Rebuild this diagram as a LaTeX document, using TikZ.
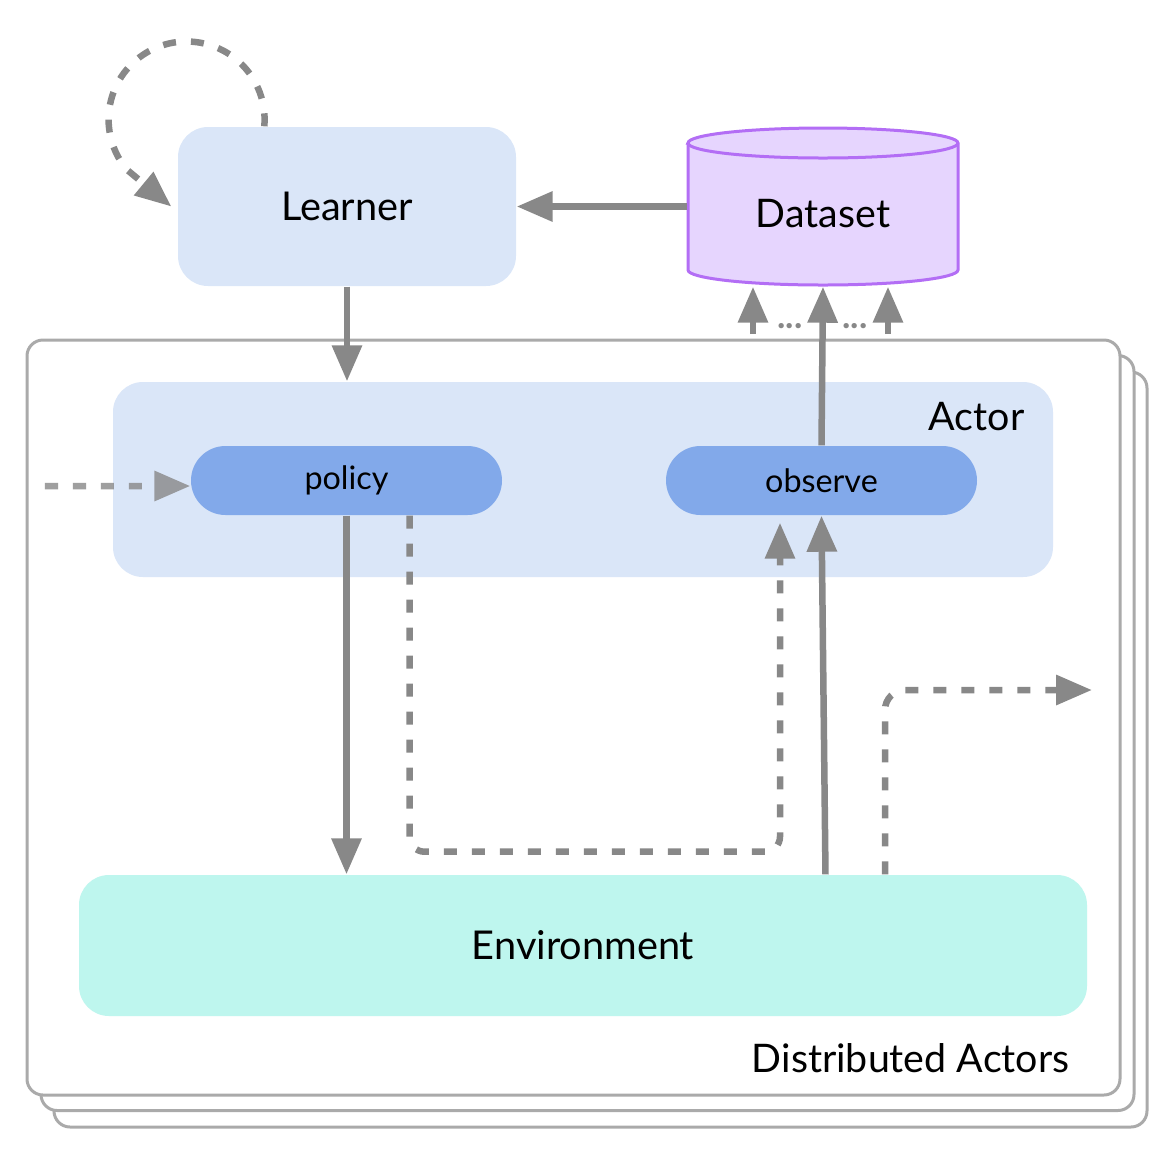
\documentclass[tikz,border=0pt]{standalone}
\usepackage{fontspec}
\setmainfont{Lato}
\usepackage{tikz}
\usetikzlibrary{arrows.meta,positioning}
\definecolor{paleblue}{HTML}{DAE6F8}
\definecolor{pillblue}{HTML}{82A9EA}
\definecolor{mint}{HTML}{BEF6EE}
\definecolor{lilac}{HTML}{E6D5FE}
\definecolor{violet}{HTML}{B36EF5}
\definecolor{wire}{HTML}{888888}
\definecolor{edge}{HTML}{AAAAAA}

\tikzset{
  box/.style={rectangle,rounded corners=0.3cm,fill=paleblue,inner sep=3pt,font=\fontsize{11.3}{13}\selectfont},
  pill/.style={rectangle,rounded corners=0.345cm,fill=pillblue,minimum width=3.11cm,minimum height=0.69cm,inner sep=2pt,font=\fontsize{9.2}{11}\selectfont},
  framebox/.style={rectangle,rounded corners=0.16cm,draw=edge,line width=0.03cm,minimum width=10.93cm,minimum height=7.55cm},
  flow/.style={-{Triangle[length=0.36cm,width=0.29cm]},wire,line width=0.065cm},
  dashflow/.style={flow,dash pattern=on 0.13cm off 0.15cm},
  caption/.style={font=\fontsize{11.2}{13}\selectfont},
  dotmark/.style={wire,anchor=base,font=\bfseries\fontsize{10}{11}\selectfont,inner sep=0pt}
}

\begin{document}
\begin{tikzpicture}[x=1cm,y=1cm]
\useasboundingbox (0,0) rectangle (11.68,-11.71);
% stacked actor frames
\node[framebox,fill=white] (frame3) at (6.005,-7.495) {};
\node[framebox,fill=white] (frame2) at (5.875,-7.33) {};
\node[framebox,fill=white] (frame) at (5.735,-7.175) {};
\node[caption,anchor=east,inner sep=0pt] (distlabel) at (10.70,-10.58) {Distributed Actors};

% actor
\node[box,minimum width=9.40cm,minimum height=1.95cm] (actor) at (5.83,-4.795) {};
\node[caption] (actorlabel) at (9.765,-4.17) {Actor};
\node[pill] (policy) at (3.465,-4.805) {policy};
\node[pill] (observe) at (8.215,-4.805) {observe};

% learner and dataset
\node[box,minimum width=3.38cm,minimum height=1.59cm] (learner) at (3.47,-2.065) {Learner};
\filldraw[fill=lilac,draw=violet,line width=0.03cm] (6.88,-1.43) -- (6.88,-2.70)
  arc[start angle=180,end angle=360,x radius=1.35,y radius=0.15] -- (9.58,-1.43)
  arc[start angle=0,end angle=180,x radius=1.35,y radius=0.15] -- cycle;
\draw[violet,line width=0.03cm] (6.88,-1.43) arc[start angle=180,end angle=360,x radius=1.35,y radius=0.15];
\node[minimum width=2.70cm,minimum height=1.44cm,inner sep=0pt,caption] (dataset) at (8.23,-2.14) {Dataset};

% environment
\node[box,fill=mint,minimum width=10.08cm,minimum height=1.41cm] (env) at (5.83,-9.455) {Environment};

% connectors
\draw[dashflow] ([xshift=0.87cm]learner.north west) arc[start angle=-5,end angle=220,radius=0.78]
  -- ([xshift=-0.06cm]learner.west);
\draw[flow] (dataset.west |- learner.east) -- (learner.east);
\draw[flow] (learner.south) -- (learner.south |- actor.north);
\coordinate (src) at (0.45,-4.86);
\begin{scope}[transparency group,opacity=0.8]
\draw[dashflow] (src) -- (src -| policy.west);
\end{scope}
\draw[flow] (policy.south) -- (policy.south |- env.north);
\draw[dashflow,rounded corners=0.15cm] ([xshift=0.63cm]policy.south) -- ++(0,-3.36)
  -| ([xshift=-0.415cm,yshift=-0.07cm]observe.south);
\draw[flow] ([xshift=0.04cm]observe.south |- env.north) -- (observe.south);
\draw[flow] (observe.north) -- (dataset.south);
\coordinate (feed1) at (7.53,-3.34);
\coordinate (feed2) at (8.88,-3.34);
\draw[flow] (feed1) -- (feed1 |- dataset.south);
\draw[flow] (feed2) -- (feed2 |- dataset.south);
\node[dotmark] (dots1) at (7.90,-3.28) {...};
\node[dotmark] (dots2) at (8.55,-3.28) {...};
\coordinate (sink) at (10.92,-6.90);
\draw[dashflow,rounded corners=0.2cm] ([xshift=3.02cm]env.north) |- (sink);
\end{tikzpicture}
\end{document}
